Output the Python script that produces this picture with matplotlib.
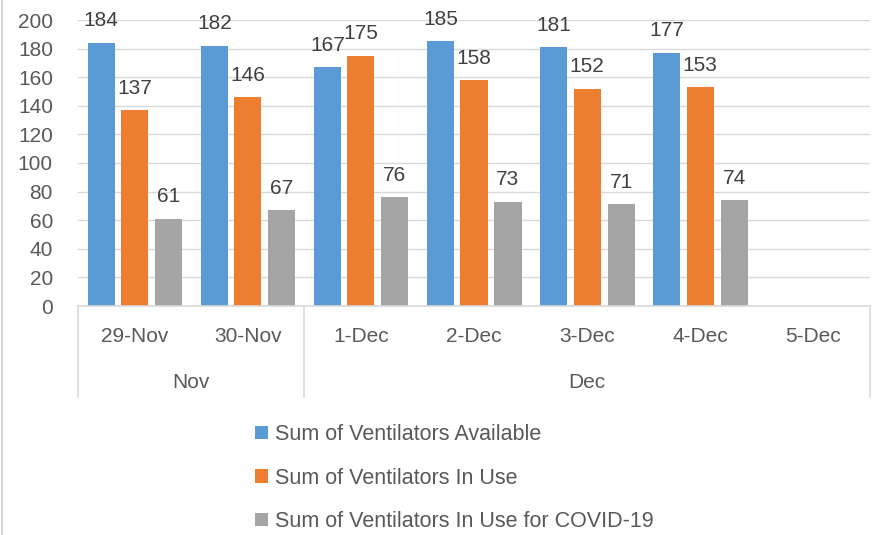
import matplotlib.pyplot as plt
import numpy as np
from matplotlib.lines import Line2D

dates = ['29-Nov', '30-Nov', '1-Dec', '2-Dec', '3-Dec', '4-Dec', '5-Dec']
months = ['Nov', 'Dec']
month_spans = [(0, 1), (2, 6)]
available = [184, 182, 167, 185, 181, 177, np.nan]
in_use = [137, 146, 175, 158, 152, 153, np.nan]
in_use_covid = [61, 67, 76, 73, 71, 74, np.nan]

series = [
    ('Sum of Ventilators Available', available, '#5B9BD5'),
    ('Sum of Ventilators In Use', in_use, '#ED7D31'),
    ('Sum of Ventilators In Use for COVID-19', in_use_covid, '#A5A5A5'),
]

plt.rcParams['font.family'] = ['Liberation Sans', 'DejaVu Sans']
txt = '#595959'
grid = '#D9D9D9'
fs = 15

W, H = 878, 535
fig = plt.figure(figsize=(W / 100, H / 100), dpi=100)
ax = fig.add_axes([78 / W, 1 - 306 / H, (870 - 78) / W, (306 - 20) / H])

x = np.arange(len(dates))
width = 0.24
offsets = [-0.295, 0, 0.3]
handles = []
for (name, vals, col), off in zip(series, offsets):
    bars = ax.bar(x + off, vals, width, color=col, label=name, zorder=2)
    handles.append(bars)
    for xi, v in zip(x, vals):
        if not np.isnan(v):
            ax.annotate(f'{int(v)}', (xi + off, v), xytext=(0, 9), textcoords='offset points',
                        ha='center', va='bottom', fontsize=fs, color='#404040', zorder=3)

ax.set_xlim(-0.5, len(dates) - 0.5)
ax.set_ylim(0, 200)
ax.set_yticks(range(0, 201, 20))
ax.yaxis.grid(True, color=grid, linewidth=1, zorder=0)
ax.tick_params(axis='y', length=0, labelsize=fs, labelcolor=txt, pad=18)
ax.tick_params(axis='x', length=0, labelbottom=False)
for s in ax.spines.values():
    s.set_visible(False)

# two-level category axis
tr = ax.get_xaxis_transform()
bottom = -(397 - 306) / (306 - 20)
ax.plot([-0.5, len(dates) - 0.5], [0, 0], transform=tr, color=grid, lw=1.2, clip_on=False)
for sep in [-0.5, 1.5, len(dates) - 0.5]:
    ax.plot([sep, sep], [0, bottom], transform=tr, color=grid, lw=1.2, clip_on=False)
for xi, d in zip(x, dates):
    ax.text(xi, -(336 - 306) / 286, d, transform=tr, ha='center', va='center', fontsize=fs, color=txt)
for m, (a, b) in zip(months, month_spans):
    ax.text((a + b) / 2, -(383 - 306) / 286, m, transform=tr, ha='center', va='center', fontsize=fs, color=txt)

# left border
fig.add_artist(Line2D([2 / W, 2 / W], [0, 1], color=grid, lw=1.5))

fig.legend(handles=handles, loc='upper left', bbox_to_anchor=(255 / W, 1 - 424 / H),
           frameon=False, fontsize=15.5, labelcolor=txt, handlelength=0.6, handleheight=0.6,
           handletextpad=0.35, labelspacing=1.05, borderpad=0, borderaxespad=0)

fig.savefig('out.png', dpi=100)
